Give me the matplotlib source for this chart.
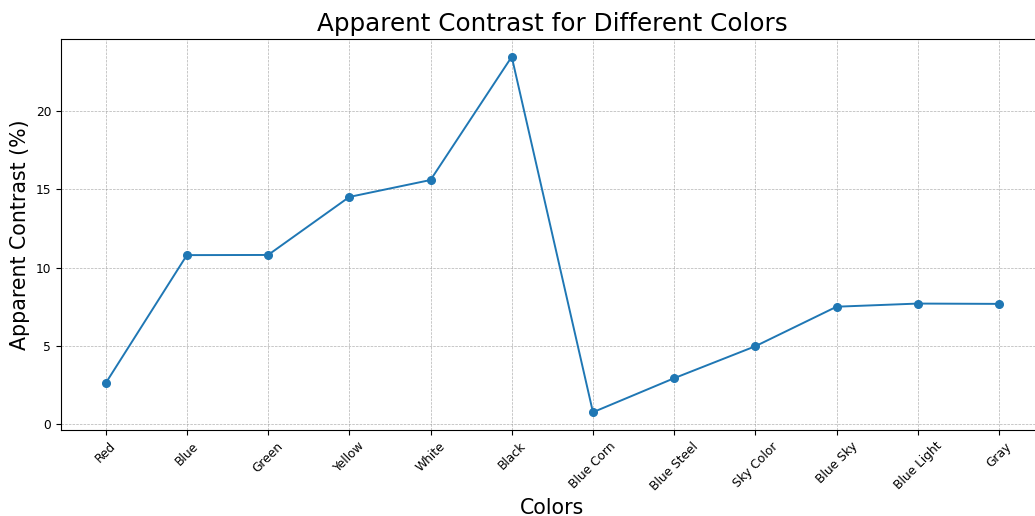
import matplotlib
matplotlib.use("Agg")
import matplotlib.pyplot as plt

colors = ["Red", "Blue", "Green", "Yellow", "White", "Black",
          "Blue Corn", "Blue Steel", "Sky Color", "Blue Sky", "Blue Light", "Gray"]
contrast = [2.62, 10.79, 10.80, 14.50, 15.58, 23.44,
            0.77, 2.94, 4.98, 7.50, 7.70, 7.68]

fig = plt.figure(figsize=(10.35, 5.16), dpi=100)
ax = fig.add_axes([61 / 1035, 86 / 516, 982.7 / 1035, 391 / 516])

ax.plot(colors, contrast, marker="o", color="#1f77b4", linewidth=1.4, markersize=5.5)
ax.set_title("Apparent Contrast for Different Colors", fontsize=17.7)
ax.set_xlabel("Colors", fontsize=14.8)
ax.set_ylabel("Apparent Contrast (%)", fontsize=14.8)
ax.tick_params(labelsize=8.8)
ax.grid(True, linestyle="--", linewidth=0.5, color="gray", alpha=0.6)
plt.setp(ax.get_xticklabels(), rotation=45)

fig.savefig("out.png", dpi=100)
